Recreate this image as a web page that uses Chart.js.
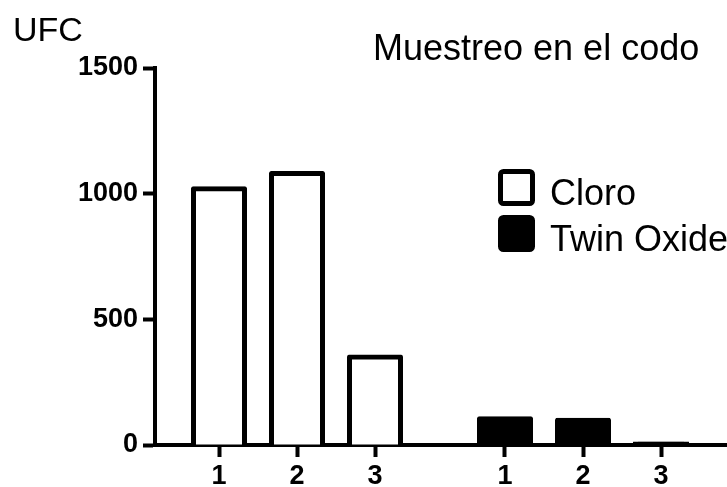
<!DOCTYPE html>
<html>
<head>
<meta charset="utf-8">
<script src="https://cdn.jsdelivr.net/npm/chart.js@4"></script>
<style>
  html, body { margin: 0; padding: 0; background: #fff; }
  canvas { display: block; }
</style>
</head>
<body>
<canvas id="chart" width="727" height="487"></canvas>
<script>
// Colony counts (UFC) per sampling point, for each treatment
const categories = ['1', '2', '3'];
const seriesNames = ['Cloro', 'Twin Oxide'];
const cloroValues = [1020, 1080, 350];
const twinOxideValues = [104, 98, 4];
const yTicks = [0, 500, 1000, 1500];
const chartTitle = 'Muestreo en el codo';
const yAxisTitle = 'UFC';

// Layout constants (pixels / slots)
const SLOT_PX = 78;          // distance between neighbouring bars
const GROUP_GAP = 2 / 3;     // extra empty slots between the two groups
const AREA = { left: 155, top: 68, right: 727, bottom: 445 };
const BAR_STROKE = 5;

const FONT = "'Liberation Sans', Arial, Helvetica, sans-serif";

// x position of each bar on the linear axis: group offset + index
const slotOf = (g, i) => g * (categories.length + GROUP_GAP) + i + 1;
const xPositions = [];
const xLabels = [];
[cloroValues, twinOxideValues].forEach((vals, g) => {
  vals.forEach((_, i) => { xPositions.push(slotOf(g, i)); xLabels.push(categories[i]); });
});
const xMin = 1 - (219 - AREA.left) / SLOT_PX;
const xMax = xMin + (AREA.right - AREA.left) / SLOT_PX;

const toPoints = (g, vals) => vals.map((v, i) => ({ x: slotOf(g, i), y: v }));

// Free-standing texts: chart title, y-axis caption and the legend
const annotations = {
  id: 'annotations',
  afterDraw(chart) {
    const ctx = chart.ctx;
    ctx.save();
    ctx.fillStyle = '#000';
    ctx.textAlign = 'left';
    ctx.textBaseline = 'alphabetic';
    ctx.font = `36px ${FONT}`;
    ctx.fillText(chartTitle, 373, 60);
    ctx.font = `34px ${FONT}`;
    ctx.fillText(yAxisTitle, 13, 41);

    // legend
    const boxX = 498, boxTop = 169, box = 37, rowStep = 46, bw = BAR_STROKE;
    chart.data.datasets.forEach((ds, k) => {
      const top = boxTop + k * rowStep;
      ctx.beginPath();
      ctx.roundRect(boxX + bw / 2, top + bw / 2, box - bw, box - bw, 3);
      ctx.fillStyle = ds.backgroundColor;
      ctx.fill();
      ctx.lineWidth = bw;
      ctx.strokeStyle = ds.borderColor;
      ctx.stroke();
      ctx.fillStyle = '#000';
      ctx.font = `36px ${FONT}`;
      ctx.fillText(ds.label, 550, top + 36);
    });
    ctx.restore();
  }
};

// Bars: outline of BAR_STROKE px centred on the bar's edge
const barStyle = {
  borderWidth: BAR_STROKE,
  borderRadius: 2,
  inflateAmount: BAR_STROKE / 2
};

new Chart(document.getElementById('chart'), {
  type: 'bar',
  data: {
    datasets: [
      Object.assign({
        label: seriesNames[0],
        data: toPoints(0, cloroValues),
        backgroundColor: '#ffffff',
        borderColor: '#000000'
      }, barStyle),
      Object.assign({
        label: seriesNames[1],
        data: toPoints(1, twinOxideValues),
        backgroundColor: '#000000',
        borderColor: '#000000'
      }, barStyle)
    ]
  },
  plugins: [annotations],
  options: {
    responsive: false,
    animation: false,
    events: [],
    layout: { padding: { top: AREA.top, right: 0, left: 0, bottom: 0 } },
    datasets: { bar: { barThickness: 51, grouped: false } },
    plugins: { legend: { display: false }, tooltip: { enabled: false }, title: { display: false } },
    scales: {
      x: {
        type: 'linear',
        offset: false,
        min: xMin,
        max: xMax,
        afterFit(scale) { scale.height = 487 - AREA.bottom; },
        afterBuildTicks(scale) { scale.ticks = xPositions.map(v => ({ value: v })); },
        ticks: {
          autoSkip: false,
          maxRotation: 0,
          padding: 3,
          color: '#000',
          font: { family: FONT, size: 27, weight: 'bold' },
          callback: (value, index) => xLabels[index]
        },
        grid: { display: true, offset: false, drawOnChartArea: false, drawTicks: true, tickLength: 12, tickWidth: 4, tickColor: '#000' },
        border: { display: true, width: 4, color: '#000' }
      },
      y: {
        min: yTicks[0],
        max: yTicks[yTicks.length - 1],
        afterFit(scale) { scale.width = AREA.left; },
        afterBuildTicks(scale) { scale.ticks = yTicks.map(v => ({ value: v })); },
        ticks: {
          padding: 5,
          color: '#000',
          font: { family: FONT, size: 27, weight: 'bold' },
          callback: (value) => String(value)
        },
        grid: { display: true, drawOnChartArea: false, drawTicks: true, tickLength: 12, tickWidth: 4, tickColor: '#000' },
        border: { display: true, width: 4, color: '#000' }
      }
    }
  }
});
</script>
</body>
</html>
